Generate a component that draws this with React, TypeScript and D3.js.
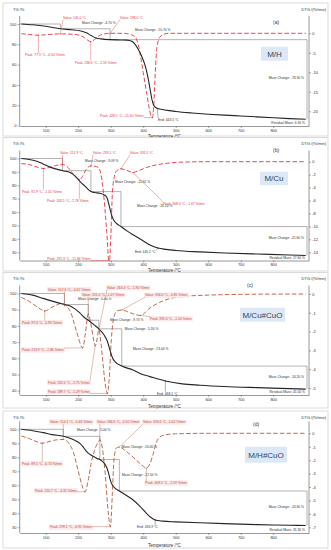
import { useEffect, useRef } from 'react';
import * as d3 from 'd3';

const W = 331;
const H = 550;
const FONT = 'Liberation Sans, Arial, Helvetica, sans-serif';

// shared temperature ticks
const tempTicks = [100, 200, 300, 400, 500, 600, 700, 800];

// (a) M/H
const tgTempA = [25, 60, 100, 145, 180, 205, 225, 240, 255, 270, 298, 330, 350, 365, 375, 385, 395, 405, 413, 420, 426, 431, 436, 442, 455, 480, 500, 550, 600, 650, 700, 750, 800, 850, 900];
const tgA = [100, 99.2, 97.8, 95.3, 94.3, 93.3, 91.3, 88.6, 86.3, 85.4, 84.6, 84.3, 84.1, 83, 80, 75, 68.5, 60, 50, 38, 27, 21, 18.5, 17.2, 16.2, 14.8, 14, 12.5, 11.3, 10.4, 9.6, 8.7, 7.8, 7, 6.3];
const dtgTempA = [25, 50, 77.5, 110, 150, 190, 215, 230, 238.6, 250, 265, 285, 300, 340, 360, 375, 385, 392, 400, 410, 418, 424, 428.5, 432, 436, 441, 446, 452, 465, 480, 900];
const dtgA = [-0.1, -0.3, -0.5, -0.3, -0.15, -0.3, -0.9, -1.8, -2.16, -1.6, -0.6, -0.1, 0, 0, -0.3, -0.9, -3, -6, -10, -15, -19, -21.2, -21.6, -19, -12, -4.5, -2, -0.9, -0.2, 0, 0];
const peaksA = [77.5, 238.6, 428.5];
const valuesA = [145.0, 298.0];
const stepTempsA = [145.0, 298.0];
const stepLevelsA = [100, 95.3, 84.6, 6.3];
const endA = 443.5;
const tgTicksA = [0, 20, 40, 60, 80, 100];
const dtgTicksA = [0, -5, -10, -15, -20];

// (b) M/Cu
const tgTempB = [25, 50, 75, 93, 120, 151.9, 175, 190, 205, 220, 239.1, 250, 267, 280, 288, 293, 298, 303, 308, 318, 331.5, 350, 370, 400, 421, 445.2, 470, 500, 575, 650, 750, 850, 900];
const tgB = [100, 99.3, 97.8, 95.8, 93, 90.91, 89.6, 87, 83, 79.5, 75.3, 74.6, 74, 72.8, 71, 67, 62, 57.5, 54.5, 51.5, 49.2, 46, 42.9, 38.5, 35.5, 33.2, 32.2, 31.4, 30.3, 29.5, 28.7, 28, 27.6];
const dtgTempB = [25, 50, 75, 92.9, 110, 130, 151.9, 165, 180, 195, 203.5, 212, 222, 239.1, 250, 262, 272, 280, 288, 295.3, 300, 305, 310, 318, 331.5, 350, 368.3, 385, 410, 440, 480, 530, 600, 900];
const dtgB = [-0.3, -0.45, -0.85, -1.05, -0.9, -0.6, -0.45, -0.7, -1.6, -2.5, -2.78, -2.4, -1.4, -0.65, -0.7, -0.9, -2.5, -6, -11, -15.86, -12, -5, -2.6, -1.4, -1.1, -1.35, -1.67, -1.4, -0.9, -0.5, -0.2, -0.05, 0, 0];
const peaksB = [92.9, 203.5, 295.3, 368.3];
const valuesB = [151.9, 239.1, 331.5];
const stepTempsB = [151.9, 239.1, 331.5];
const stepLevelsB = [100, 90.91, 75.3, 49.2, 27.6];
const endB = 445.2;
const tgTicksB = [30, 40, 50, 60, 70, 80, 90, 100];
const dtgTicksB = [0, -2, -4, -6, -8, -10, -12, -14];

// (c) M/Cu#CuO
const tgTempC = [25, 60, 92, 120, 157.6, 175, 190, 205, 220, 231, 250, 263.4, 270, 280, 289.7, 295, 300, 306, 313, 334, 369, 392, 421, 468.1, 520, 575, 650, 750, 850, 900];
const tgC = [100, 99, 97, 95.3, 93.2, 92.3, 90.5, 88, 85, 83.5, 80.5, 78.2, 76.8, 74.2, 70.5, 67, 63.5, 60, 58, 55.2, 52.8, 50.5, 48.7, 46, 44.2, 43.4, 42.6, 41.9, 41.3, 41];
const dtgTempC = [25, 50, 75, 97, 120, 150, 175, 195, 213.9, 222, 231, 240, 247, 252.5, 258, 263.4, 270, 278, 284, 289.7, 295, 302, 310, 320, 334, 360, 392, 420, 450, 480, 530, 600, 700, 900];
const dtgC = [-0.18, -0.4, -0.7, -0.9, -0.7, -0.5, -0.9, -2.0, -2.86, -2.1, -1.07, -1.7, -2.4, -2.75, -2.4, -1.9, -2.6, -4.0, -4.9, -5.29, -4.6, -2.4, -1.2, -0.9, -0.85, -1.0, -1.14, -0.75, -0.45, -0.25, -0.12, -0.06, -0.02, 0];
const peaksC = [97, 213.9, 252.5, 289.7, 392];
const valuesC = [157.6, 231, 263.4, 334];
const stepTempsC = [157.6, 231, 263.4, 334];
const stepLevelsC = [100, 93.2, 83.5, 78.2, 55.2, 41.0];
const endC = 468.1;
const tgTicksC = [40, 50, 60, 70, 80, 90, 100];
const dtgTicksC = [0, -1, -2, -3, -4, -5];

// (d) M/H#CuO
const tgTempD = [25, 60, 92, 120, 154.1, 175, 195, 205, 215, 221, 230, 240, 250, 258, 266.6, 280, 288, 293, 299.1, 305, 313, 326.6, 350, 369, 390, 410, 425, 436.9, 460, 500, 575, 650, 750, 850, 900];
const tgD = [100, 99, 97.6, 96.2, 95, 93.6, 91.5, 90, 87.5, 85.5, 83.2, 81.5, 80.2, 79.2, 78.4, 75.8, 72.5, 69, 63.5, 60.2, 58, 55.9, 52.5, 49.5, 45, 40, 36.8, 35.2, 34.4, 33.9, 33.2, 32.6, 31.9, 31.5, 31.3];
const dtgTempD = [25, 50, 70, 89.5, 110, 130, 154.1, 170, 185, 200, 212, 220.7, 230, 240, 250, 260, 266.6, 275, 283, 292, 299.1, 305, 310, 317, 326.6, 345, 370, 395, 409.5, 420, 430, 440, 450, 470, 500, 600, 900];
const dtgD = [-0.2, -0.4, -0.6, -0.74, -0.62, -0.5, -0.46, -0.7, -1.4, -2.8, -3.9, -4.35, -3.6, -2.2, -1.3, -0.7, -0.5, -1.2, -3.0, -5.8, -6.95, -4.5, -2.0, -1.1, -1.02, -1.3, -1.8, -2.35, -2.59, -2.3, -1.6, -0.7, -0.3, -0.1, -0.04, 0, 0];
const peaksD = [89.5, 220.7, 299.1, 409.5];
const valuesD = [154.1, 266.6, 326.6];
const stepTempsD = [154.1, 266.6, 326.6];
const stepLevelsD = [100, 95.0, 78.4, 55.9, 31.3];
const endD = 436.9;
const tgTicksD = [30, 40, 50, 60, 70, 80, 90, 100];
const dtgTicksD = [0, -1, -2, -3, -4, -5, -6, -7];

const panels = [
  { name: 'M/H', tag: '(a)', tgTemp: tgTempA, tg: tgA, dtgTemp: dtgTempA, dtg: dtgA, peaks: peaksA, values: valuesA, stepTemps: stepTempsA, stepLevels: stepLevelsA, end: endA, tgTicks: tgTicksA, dtgTicks: dtgTicksA, valueWithDtg: false },
  { name: 'M/Cu', tag: '(b)', tgTemp: tgTempB, tg: tgB, dtgTemp: dtgTempB, dtg: dtgB, peaks: peaksB, values: valuesB, stepTemps: stepTempsB, stepLevels: stepLevelsB, end: endB, tgTicks: tgTicksB, dtgTicks: dtgTicksB, valueWithDtg: false },
  { name: 'M/Cu#CuO', tag: '(c)', tgTemp: tgTempC, tg: tgC, dtgTemp: dtgTempC, dtg: dtgC, peaks: peaksC, values: valuesC, stepTemps: stepTempsC, stepLevels: stepLevelsC, end: endC, tgTicks: tgTicksC, dtgTicks: dtgTicksC, valueWithDtg: true },
  { name: 'M/H#CuO', tag: '(d)', tgTemp: tgTempD, tg: tgD, dtgTemp: dtgTempD, dtg: dtgD, peaks: peaksD, values: valuesD, stepTemps: stepTempsD, stepLevels: stepLevelsD, end: endD, tgTicks: tgTicksD, dtgTicks: dtgTicksD, valueWithDtg: true },
];

// page layout of each panel (pixels), kept apart from the data
const layouts = [
  {
    top: 3, bottom: 136, tgRange: [125.7, 24], dtgRange: [111.3, 33.3], axisTop: 16, axisBottom: 126, titleY: 136,
    tagPos: [273, 22], box: [261, 46.7, 27, 14], dtgColor: '#e5333d', labelColor: '#e23a44', labelBg: null,
    peakOff: [[-13.4, 19.75], [-15.7, 20.8], [-52.4, -2]],
    valueOff: [[2.7, -16.5], [10, -15.8]],
    endOff: [0.7, 11.2],
    massOff: [[21.7, -1], [25, 1.2], [-3, 38.3]],
  },
  {
    top: 137.5, bottom: 271, tgRange: [252.3, 158.5], dtgRange: [252.3, 161.7], axisTop: 150.5, axisBottom: 260.5, titleY: 270.5,
    tagPos: [273, 150], box: [260, 171.7, 28, 13.5], dtgColor: '#e5333d', labelColor: '#e23a44', labelBg: null,
    peakOff: [[-21.4, 23], [-32.3, 20.8], [-62, -2], [30.1, 31]],
    valueOff: [[-2.6, -12.1], [2.1, -13.4], [9.1, -16.3]],
    endOff: [-23, 4],
    massOff: [[22.4, 2.5], [24, 11], [16, 14.7], [-3, 11.4]],
  },
  {
    top: 272.5, bottom: 408, tgRange: [390.7, 293.5], dtgRange: [388, 294], axisTop: 285.5, axisBottom: 395, titleY: 406,
    tagPos: [247, 285], box: [240, 307.7, 45, 14], dtgColor: '#b35a3c', labelColor: '#c0453a', labelBg: '#fbeaea',
    peakOff: [[-22.7, 11.6], [-60.7, 2.2], [-47.2, 36.8], [-59.3, -2], [9.4, 3.1]],
    valueOff: [[-16.4, -16.3], [-6.3, -19.1], [8.2, -42.2], [23.3, -15]],
    endOff: [-8.3, 12.5],
    massOff: [[13.6, 5.8], [21.7, 15.5], [26, 8.8], [11.3, 20.5], [-3, 10.6]],
  },
  {
    top: 411, bottom: 548, tgRange: [527.3, 429.3], dtgRange: [527.3, 433.3], axisTop: 421.3, axisBottom: 533, titleY: 545,
    tagPos: [253, 424], box: [245, 446.7, 42, 16], dtgColor: '#b35a3c', labelColor: '#c0453a', labelBg: '#fbeaea',
    peakOff: [[-20.3, 20.3], [-49.9, -1.2], [-60.4, 0.4], [-1.1, 14.9]],
    valueOff: [[-13.3, -17.5], [-2.8, -18], [23.7, -25]],
    endOff: [-18.2, 7],
    massOff: [[13.7, 0.7], [22, 11], [2.7, 15.5], [-3, 15.7]],
  },
];

const interp = (ts: number[], vs: number[], t: number) => {
  const i = d3.bisectLeft(ts, t);
  if (i <= 0) return vs[0];
  if (i >= ts.length) return vs[vs.length - 1];
  const t0 = ts[i - 1];
  const t1 = ts[i];
  return vs[i - 1] + ((vs[i] - vs[i - 1]) * (t - t0)) / (t1 - t0);
};

const styleAxis = (sel: any) => {
  sel.attr('font-size', null).attr('font-family', null);
  sel.selectAll('text').attr('font-size', 4).attr('font-family', FONT).attr('fill', '#333');
  sel.selectAll('line').attr('stroke', '#555').attr('stroke-width', 0.5);
  sel.select('.domain').attr('stroke', '#555').attr('stroke-width', 0.6);
};

const addLabel = (g: any, text: string, lx: number, ly: number, color: string, anchor: string, target: number[] | null, bg: string | null, lineColor: string) => {
  const grp = g.append('g');
  const t = grp.append('text')
    .attr('x', lx).attr('y', ly).attr('dy', '0.35em')
    .attr('font-size', 3.3).attr('font-family', FONT)
    .attr('fill', color).attr('text-anchor', anchor)
    .text(text);
  const bb = t.node().getBBox();
  if (bg) {
    grp.insert('rect', 'text')
      .attr('x', bb.x - 1).attr('y', bb.y - 0.6)
      .attr('width', bb.width + 2).attr('height', bb.height + 1.2)
      .attr('fill', bg);
  }
  if (target) {
    const cx = Math.max(bb.x, Math.min(target[0], bb.x + bb.width));
    const cy = Math.max(bb.y, Math.min(target[1], bb.y + bb.height));
    grp.append('line')
      .attr('x1', cx).attr('y1', cy).attr('x2', target[0]).attr('y2', target[1])
      .attr('stroke', lineColor).attr('stroke-width', 0.4);
    grp.append('circle').attr('cx', target[0]).attr('cy', target[1]).attr('r', 0.6).attr('fill', lineColor);
  }
};

const drawPanel = (root: any, x: any, p: any, L: any, idx: number) => {
  const g = root.append('g');
  const yT = d3.scaleLinear().domain([d3.min(p.tgTicks) as number, d3.max(p.tgTicks) as number]).range(L.tgRange);
  const yD = d3.scaleLinear().domain([d3.min(p.dtgTicks) as number, 0]).range(L.dtgRange);
  const [xL, xR] = x.range();

  // frame
  g.append('rect')
    .attr('x', 3).attr('y', L.top).attr('width', 325).attr('height', L.bottom - L.top)
    .attr('fill', '#fff').attr('stroke', '#d2d2d2').attr('stroke-width', 0.8);

  const clipId = `plot-clip-${idx}`;
  g.append('clipPath').attr('id', clipId)
    .append('rect')
    .attr('x', xL).attr('y', L.axisTop).attr('width', xR - xL).attr('height', L.axisBottom - L.axisTop);

  // axes
  const gx = g.append('g').attr('transform', `translate(0,${L.axisBottom})`)
    .call(d3.axisBottom(x).tickValues(tempTicks).tickSize(2).tickSizeOuter(0).tickPadding(1).tickFormat((d: any) => String(d)));
  styleAxis(gx);

  const gl = g.append('g').attr('transform', `translate(${xL},0)`)
    .call(d3.axisLeft(yT).tickValues(p.tgTicks).tickSize(2).tickPadding(1.2).tickFormat((d: any) => String(d)));
  gl.select('.domain').remove();
  gl.append('line').attr('class', 'domain').attr('y1', L.axisTop).attr('y2', L.axisBottom);
  styleAxis(gl);

  const gr = g.append('g').attr('transform', `translate(${xR},0)`)
    .call(d3.axisRight(yD).tickValues(p.dtgTicks).tickSize(2).tickPadding(1.2).tickFormat((d: any) => String(d)));
  gr.select('.domain').remove();
  gr.append('line').attr('class', 'domain').attr('y1', L.axisTop).attr('y2', L.axisBottom);
  styleAxis(gr);

  // titles
  g.append('text').attr('x', 13).attr('y', L.top + 6.5).attr('dy', '0.35em')
    .attr('font-size', 4).attr('font-family', FONT).attr('fill', '#333').text('TG /%');
  g.append('text').attr('x', 326).attr('y', L.top + 6.5).attr('dy', '0.35em').attr('text-anchor', 'end')
    .attr('font-size', 4).attr('font-family', FONT).attr('fill', '#333').text('DTG /(%/min)');
  g.append('text').attr('x', (xL + xR) / 2).attr('y', L.titleY).attr('dy', '0.35em').attr('text-anchor', 'middle')
    .attr('font-size', 4.5).attr('font-family', FONT).attr('fill', '#333').text('Temperature /°C');
  g.append('text').attr('x', L.tagPos[0]).attr('y', L.tagPos[1]).attr('dy', '0.35em')
    .attr('font-size', 5).attr('font-family', FONT).attr('fill', '#333').text(p.tag);

  // sample box
  g.append('rect').attr('x', L.box[0]).attr('y', L.box[1]).attr('width', L.box[2]).attr('height', L.box[3])
    .attr('fill', '#dce8f5');
  g.append('text').attr('x', L.box[0] + L.box[2] / 2).attr('y', L.box[1] + L.box[3] / 2).attr('dy', '0.35em')
    .attr('text-anchor', 'middle').attr('font-size', 8).attr('font-family', FONT).attr('fill', '#34465a')
    .text(p.name);

  // mass change staircase
  const levels = p.stepLevels;
  const xs = [xL, ...p.stepTemps.map((t: number) => x(t)), xR - 2];
  const ann = g.append('g');
  for (let i = 0; i < levels.length - 1; i++) {
    ann.append('line').attr('x1', xs[i]).attr('x2', xs[i + 1]).attr('y1', yT(levels[i])).attr('y2', yT(levels[i]))
      .attr('stroke', '#666').attr('stroke-width', 0.5);
    ann.append('line').attr('x1', xs[i + 1]).attr('x2', xs[i + 1]).attr('y1', yT(levels[i])).attr('y2', yT(levels[i + 1]))
      .attr('stroke', '#666').attr('stroke-width', 0.5);
    const last = i === levels.length - 2;
    const off = L.massOff[i];
    addLabel(ann, `Mass Change: ${(levels[i + 1] - levels[i]).toFixed(2)} %`,
      xs[i + 1] + off[0], yT(levels[i]) + off[1], '#333', last ? 'end' : 'start', null, null, '#333');
  }
  addLabel(ann, `Residual Mass: ${levels[levels.length - 1].toFixed(2)} %`, 305, L.axisBottom - 3, '#333', 'end', null, null, '#333');

  // curves
  const tgLine = d3.line<[number, number]>().x(d => x(d[0])).y(d => yT(d[1])).curve(d3.curveMonotoneX);
  const dtgLine = d3.line<[number, number]>().x(d => x(d[0])).y(d => yD(d[1])).curve(d3.curveMonotoneX);

  g.append('path')
    .datum(d3.zip(p.dtgTemp, p.dtg))
    .attr('clip-path', `url(#${clipId})`)
    .attr('d', dtgLine as any)
    .attr('fill', 'none').attr('stroke', L.dtgColor).attr('stroke-width', 0.9)
    .attr('stroke-dasharray', '4.5,2.2');

  g.append('path')
    .datum(d3.zip(p.tgTemp, p.tg))
    .attr('d', tgLine as any)
    .attr('fill', 'none').attr('stroke', '#262626').attr('stroke-width', 1.1);

  // DTG annotations
  const labels = g.append('g');
  p.values.forEach((t: number, i: number) => {
    const v = interp(p.dtgTemp, p.dtg, t);
    const pt = [x(t), yD(v)];
    const txt = p.valueWithDtg ? `Value: ${t.toFixed(1)} °C, ${v.toFixed(2)} %/min` : `Value: ${t.toFixed(1)} °C`;
    addLabel(labels, txt, pt[0] + L.valueOff[i][0], pt[1] + L.valueOff[i][1], L.labelColor, 'start', pt, L.labelBg, L.dtgColor);
  });
  p.peaks.forEach((t: number, i: number) => {
    const v = interp(p.dtgTemp, p.dtg, t);
    const pt = [x(t), Math.min(yD(v), L.axisBottom)];
    addLabel(labels, `Peak: ${t.toFixed(1)} °C, ${v.toFixed(2)} %/min`,
      pt[0] + L.peakOff[i][0], pt[1] + L.peakOff[i][1], L.labelColor, 'start', pt, L.labelBg, L.dtgColor);
  });
  const endPt = [x(p.end), yT(interp(p.tgTemp, p.tg, p.end))];
  addLabel(labels, `End: ${p.end.toFixed(1)} °C`, endPt[0] + L.endOff[0], endPt[1] + L.endOff[1], '#333', 'start', endPt, null, '#333');
};

const App = () => {
  const svgRef = useRef<SVGSVGElement>(null);

  useEffect(() => {
    document.body.style.margin = '0';
    const svg = d3.select(svgRef.current);
    svg.selectAll('*').remove();
    svg.append('rect').attr('width', W).attr('height', H).attr('fill', '#fff');
    const x = d3.scaleLinear().domain([20, 910]).range([19.7, 309]);
    panels.forEach((p, i) => drawPanel(svg, x, p, layouts[i], i));
  }, []);

  return <svg ref={svgRef} width={W} height={H} style={{ display: 'block' }} />;
};

export default App;
